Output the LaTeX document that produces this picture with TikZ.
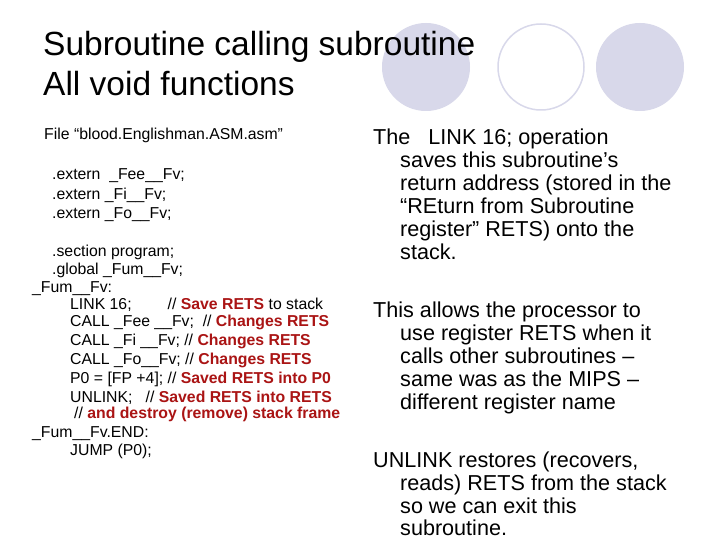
\documentclass[tikz,border=0pt]{standalone}
\usepackage{fontspec}
\setmainfont{Liberation Sans}
\definecolor{circ}{RGB}{216,216,234}
\definecolor{dred}{RGB}{170,20,20}
\begin{document}
\begin{tikzpicture}[x=1pt,y=-1pt,
 title/.style={anchor=mid west,inner sep=0,font=\fontsize{33.5}{35}\selectfont},
 code/.style={anchor=mid west,inner sep=0,font=\fontsize{15.8}{17}\selectfont},
 body/.style={anchor=mid west,inner sep=0,font=\fontsize{21.6}{23}\selectfont}]
\useasboundingbox[fill=white] (0,0) rectangle (720,540);
\fill[circ] (426,67) circle (44);
\draw[circ,line width=1.5] (541,67) circle (43);
\fill[circ] (640,67) circle (44);
\node[title] (t1) at (43,53) {Subroutine calling subroutine};
\node[title] (t2) at (43,93) {All void functions};
\begin{scope}[yshift=-3]
\node[code] (c0) at (44,134) {File “blood.Englishman.ASM.asm”};
\node[code] (c1) at (52,174) {.extern \ \_Fee\_\_Fv;};
\node[code] (c2) at (52,194) {.extern \_Fi\_\_Fv;};
\node[code] (c3) at (52,213) {.extern \_Fo\_\_Fv;};
\node[code] (c4) at (52,251) {.section program;};
\node[code] (c5) at (52,269) {.global \_Fum\_\_Fv;};
\node[code] (c6) at (32,287) {\_Fum\_\_Fv:};
\node[code] (c7) at (70,304) {LINK 16; \qquad // {\color{dred}\bfseries Save RETS} to stack};
\node[code] (c8) at (70,321) {CALL \_Fee \_\_Fv; \ // {\color{dred}\bfseries Changes RETS}};
\node[code] (c9) at (70,340) {CALL \_Fi \_\_Fv; // {\color{dred}\bfseries Changes RETS}};
\node[code] (c10) at (70,359) {CALL \_Fo\_\_Fv; // {\color{dred}\bfseries Changes RETS}};
\node[code] (c11) at (70,378) {P0 = [FP +4]; // {\color{dred}\bfseries Saved RETS into P0}};
\node[code] (c12) at (70,397) {UNLINK; \ \ // {\color{dred}\bfseries Saved RETS into RETS}};
\node[code] (c13) at (74,413) {// {\color{dred}\bfseries and destroy (remove) stack frame}};
\node[code] (c14) at (32,432) {\_Fum\_\_Fv.END:};
\node[code] (c15) at (70,450) {JUMP (P0);};
\end{scope}
\begin{scope}[yshift=-2]
\node[body] (r1) at (373,140) {The \ \ LINK 16; operation};
\node[body] (r2) at (400,163) {saves this subroutine’s};
\node[body] (r3) at (400,186) {return address (stored in the};
\node[body] (r4) at (400,209) {“REturn from Subroutine};
\node[body] (r5) at (400,232) {register” RETS) onto the};
\node[body] (r6) at (400,255) {stack.};
\node[body] (s1) at (373,313) {This allows the processor to};
\node[body] (s2) at (400,336) {use register RETS when it};
\node[body] (s3) at (400,359) {calls other subroutines –};
\node[body] (s4) at (400,382) {same was as the MIPS –};
\node[body] (s5) at (400,405) {different register name};
\node[body] (u1) at (373,463) {UNLINK restores (recovers,};
\node[body] (u2) at (400,486) {reads) RETS from the stack};
\node[body] (u3) at (400,509) {so we can exit this};
\node[body] (u4) at (400,531) {subroutine.};
\end{scope}
\end{tikzpicture}
\end{document}
